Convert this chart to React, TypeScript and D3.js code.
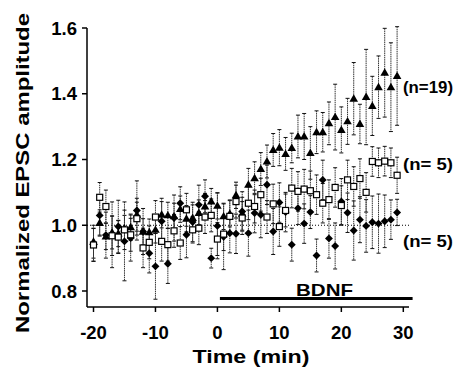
import React from "react";
import * as d3 from "d3";

const times = [-20,-19,-18,-17,-16,-15,-14,-13,-12,-11,-10,-9,-8,-7,-6,-5,-4,-3,-2,-1,0,1,2,3,4,5,6,7,8,9,10,11,12,13,14,15,16,17,18,19,20,21,22,23,24,25,26,27,28,29];

const triMean = [0.95,1.007,0.966,0.978,0.975,0.99,0.994,1.032,0.98,0.979,0.986,1.032,1.03,1.027,1.049,1.02,1.022,1.037,1.057,1.072,1.059,1.027,1.035,1.091,1.035,1.123,1.143,1.171,1.194,1.229,1.236,1.217,1.235,1.27,1.27,1.22,1.283,1.283,1.31,1.329,1.29,1.316,1.385,1.308,1.39,1.363,1.42,1.464,1.42,1.454];
const triErr = [0.05,0.04,0.04,0.05,0.04,0.04,0.04,0.05,0.04,0.04,0.04,0.04,0.04,0.04,0.04,0.04,0.04,0.04,0.04,0.04,0.04,0.04,0.04,0.04,0.05,0.05,0.05,0.05,0.05,0.05,0.055,0.05,0.045,0.065,0.07,0.08,0.065,0.06,0.065,0.1,0.07,0.07,0.11,0.06,0.145,0.09,0.095,0.135,0.135,0.15];

const sqMean = [0.94,1.085,1.057,0.968,0.964,0.986,0.971,1.02,0.931,0.948,1.025,0.951,0.941,0.983,0.946,1.047,0.986,0.991,1.025,1.03,0.958,0.973,1.027,1.072,1.022,1.067,1.057,1.093,1.025,1.065,0.996,1.045,1.113,1.103,1.11,1.105,1.093,1.067,1.078,1.115,1.06,1.138,1.118,1.142,1.1,1.194,1.19,1.195,1.19,1.152];
const sqErr = [0.05,0.045,0.05,0.06,0.05,0.06,0.05,0.05,0.06,0.05,0.05,0.06,0.05,0.05,0.05,0.05,0.04,0.05,0.05,0.05,0.05,0.05,0.05,0.05,0.05,0.05,0.05,0.05,0.05,0.06,0.06,0.05,0.06,0.06,0.06,0.06,0.06,0.06,0.06,0.06,0.06,0.06,0.06,0.06,0.06,0.045,0.045,0.045,0.045,0.055];

const diaMean = [0.941,1.03,0.97,0.971,0.996,0.951,0.961,1.045,0.981,0.915,0.875,1.012,0.883,1.022,1.067,0.971,1.01,1.062,1.088,0.9,0.998,0.965,0.976,0.974,1.042,0.976,1.037,1.032,1.123,0.981,1.069,1.04,0.941,1.052,1.005,1.04,0.908,1.138,0.96,0.937,1.072,1.038,0.984,1.017,0.998,1.009,1.005,1.012,1.017,1.039];
const diaErr = [0.05,0.06,0.07,0.1,0.08,0.12,0.07,0.09,0.07,0.06,0.1,0.07,0.06,0.07,0.05,0.07,0.06,0.06,0.05,0.03,0.1,0.1,0.06,0.06,0.06,0.07,0.06,0.07,0.06,0.07,0.06,0.06,0.05,0.05,0.06,0.05,0.05,0.06,0.06,0.07,0.07,0.06,0.09,0.07,0.08,0.08,0.09,0.08,0.06,0.04];

const yTicks = [0.8, 1.0, 1.2, 1.4, 1.6];
const xTicks = [-20, -10, 0, 10, 20, 30];
const nLabels = ["(n=19)", "(n= 5)", "(n= 5)"];
const nLabelValues = [1.42, 1.187, 0.953];
const bdnfRange = [0.4, 31.5];

const W = 468, H = 370;
const font = "'Liberation Sans', Arial, Helvetica, sans-serif";

export default function App() {
  const x = d3.scaleLinear().domain([-20, 30]).range([93.5, 403.3]);
  const y = d3.scaleLinear().domain([0.8, 1.6]).range([291, 28]);
  const axX0 = 87, axX1 = 409, axY = 307, axTop = 28;

  const errBars = (means: number[], errs: number[], key: string) =>
    times.map((t, i) => {
      const cx = x(t);
      const y0 = y(means[i] + errs[i]);
      const y1 = y(means[i] - errs[i]);
      return (
        <g key={key + i}>
          <line x1={cx} x2={cx} y1={y0} y2={y1} stroke="#333" strokeWidth={1} strokeDasharray="1.5,0.7" />
          <line x1={cx - 2} x2={cx + 2} y1={y0} y2={y0} stroke="#111" strokeWidth={1} />
          <line x1={cx - 2} x2={cx + 2} y1={y1} y2={y1} stroke="#111" strokeWidth={1} />
        </g>
      );
    });

  const triPath = d3.symbol().type(d3.symbolTriangle).size(32)()!;

  return (
    <svg width={W} height={H} style={{ position: "absolute", left: 0, top: 0, background: "#fff" }}>
      <rect width={W} height={H} fill="#fff" />
      <line x1={axX0} x2={axX1} y1={y(1.0)} y2={y(1.0)} stroke="#000" strokeWidth={1} strokeDasharray="1,2" />

      {errBars(diaMean, diaErr, "de")}
      {errBars(triMean, triErr, "te")}
      {errBars(sqMean, sqErr, "se")}

      {times.map((t, i) => (
        <path key={"d" + i} transform={`translate(${x(t)},${y(diaMean[i])}) rotate(45)`} d="M-2.8,-2.8H2.8V2.8H-2.8Z" fill="#000" />
      ))}
      {times.map((t, i) => (
        <path key={"t" + i} transform={`translate(${x(t)},${y(triMean[i]) + 0.5})`} d={triPath} fill="#000" />
      ))}
      {times.map((t, i) => (
        <rect key={"s" + i} x={x(t) - 3} y={y(sqMean[i]) - 3} width={6} height={6} fill="#fff" stroke="#000" strokeWidth={1.2} />
      ))}

      <line x1={axX0} x2={axX0} y1={axTop} y2={axY} stroke="#000" strokeWidth={1.5} />
      <line x1={axX0} x2={axX1} y1={axY} y2={axY} stroke="#000" strokeWidth={1.5} />
      {yTicks.map((v) => (
        <g key={"yt" + v}>
          <line x1={axX0 - 5} x2={axX0} y1={y(v)} y2={y(v)} stroke="#000" strokeWidth={1.5} />
          <text x={77} y={y(v) + 6.5} textAnchor="end" fontFamily={font} fontWeight="bold" fontSize={18.5} fill="#000">
            {v.toFixed(1)}
          </text>
        </g>
      ))}
      {xTicks.map((v) => (
        <g key={"xt" + v}>
          <line x1={x(v)} x2={x(v)} y1={axY} y2={axY + 5} stroke="#000" strokeWidth={1.5} />
          <text x={x(v)} y={338.5} textAnchor="middle" fontFamily={font} fontWeight="bold" fontSize={18.5} fill="#000">
            {v}
          </text>
        </g>
      ))}

      <line x1={x(bdnfRange[0])} x2={x(bdnfRange[1])} y1={298.5} y2={298.5} stroke="#000" strokeWidth={3} />
      <text x={324.5} y={296} textAnchor="middle" fontFamily={font} fontWeight="bold" fontSize={17} textLength={57} lengthAdjust="spacingAndGlyphs" fill="#000">
        BDNF
      </text>

      {nLabels.map((s, i) => (
        <text key={"n" + i} x={403} y={y(nLabelValues[i]) + 6} fontFamily={font} fontWeight="bold" fontSize={17} textLength={50} lengthAdjust="spacingAndGlyphs" fill="#000">
          {s}
        </text>
      ))}

      <text x={251} y={363} textAnchor="middle" fontFamily={font} fontWeight="bold" fontSize={18.5} textLength={117} lengthAdjust="spacingAndGlyphs" fill="#000">
        Time (min)
      </text>
      <text transform="translate(29,173) rotate(-90)" textAnchor="middle" fontFamily={font} fontWeight="bold" fontSize={18.5} textLength={320} lengthAdjust="spacingAndGlyphs" fill="#000">
        Normalized EPSC amplitude
      </text>
    </svg>
  );
}
